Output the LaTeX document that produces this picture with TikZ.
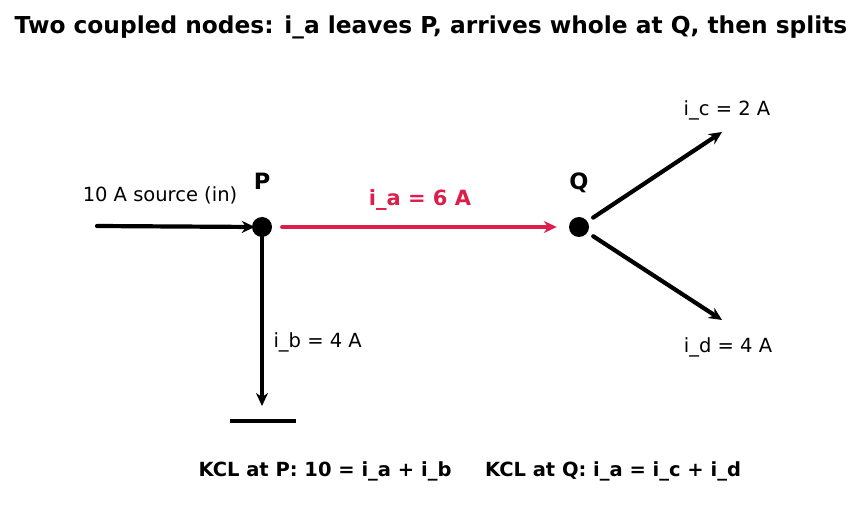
\documentclass[tikz,border=0pt]{standalone}
\usepackage{fontspec}
\setmainfont{DejaVu Sans}
\usepackage{tikz}
\usetikzlibrary{arrows.meta,positioning,calc}
\definecolor{crimson}{RGB}{220,30,75}

\begin{document}
\begin{tikzpicture}[x=1pt,y=-1pt,>={Stealth[length=13pt,width=12pt]},
      wire/.style={line width=4.2pt,line cap=round},
      junction/.style={circle,fill=black,inner sep=0pt,minimum size=20pt},
      lbl/.style={font=\fontsize{19.5}{22}\selectfont},
      bold lbl/.style={font=\fontsize{19.5}{22}\selectfont\bfseries},
      node lbl/.style={font=\fontsize{22.5}{25}\selectfont\bfseries}]
      \useasboundingbox (0,0) rectangle (862,510);
      \node[font=\fontsize{23.3}{26}\selectfont\bfseries] (title) at (431,27) {Two coupled nodes: i\_a leaves P, arrives whole at Q, then splits};

      \node[junction] (p) at (262,227) {};
      \node[junction] (q) at (579,227) {};
      \coordinate (src) at (97,226);
      \coordinate (gnd) at (262,406);
      \coordinate (outc) at (722,132);
      \coordinate (outd) at (722,320);
      \coordinate (barl) at (230,421);
      \coordinate (barr) at (296,421);

      \node[node lbl] (plbl) [above=24pt of p] {P};
      \node[node lbl] (qlbl) [above=20pt of q] {Q};
      \node[lbl] (srclbl) at (160,195) {10 A source (in)};
      \node[bold lbl,font=\fontsize{21}{24}\selectfont\bfseries,text=crimson] (ialbl) at (420,200) {i\_a = 6 A};
      \node[lbl,anchor=west] (iblbl) at (270,342) {i\_b = 4 A};
      \node[lbl] (iclbl) at (727,110) {i\_c = 2 A};
      \node[lbl] (idlbl) at (728,347) {i\_d = 4 A};
      \node[bold lbl] (kclp) at (325,471) {KCL at P: 10 = i\_a + i\_b};
      \node[bold lbl] (kclq) at (613,471) {KCL at Q: i\_a = i\_c + i\_d};

      \draw[wire,->] (src) -- ([xshift=3pt]p.west);
      \draw[wire,->,crimson] ([xshift=10pt]p.east) -- ([xshift=-12pt]q.west);
      \draw[wire,->] ([yshift=9pt]p.south) -- (gnd);
      \draw[wire,line cap=butt] (barl) -- (barr);
      \draw[wire,->] ($(q)!17pt!(outc)$) -- (outc);
      \draw[wire,->] ($(q)!17pt!(outd)$) -- (outd);
    \end{tikzpicture}
\end{document}
